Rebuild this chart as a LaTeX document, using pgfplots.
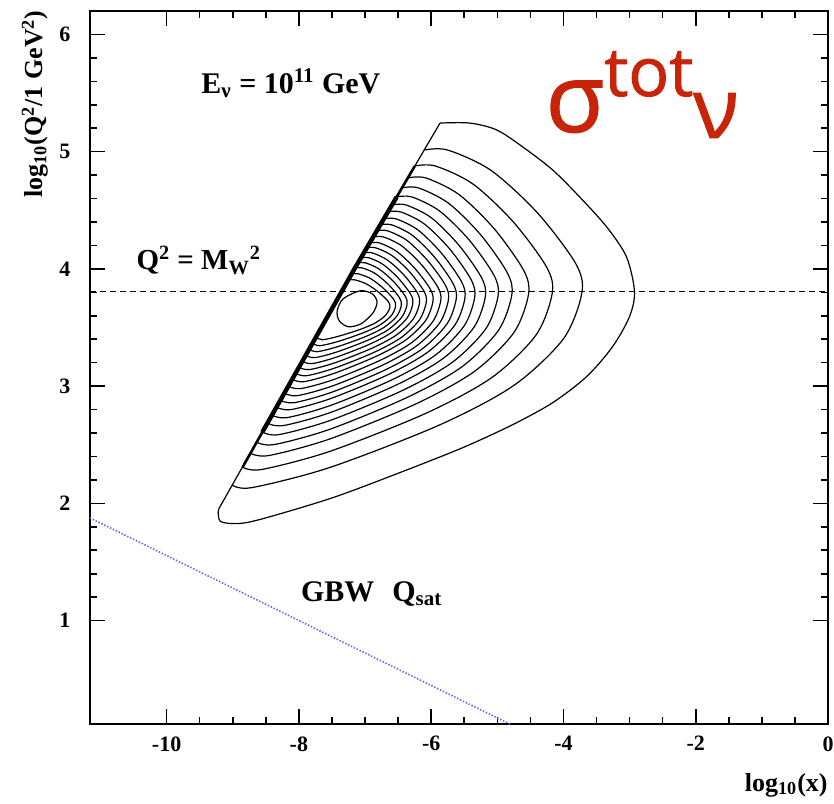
\documentclass[border=0pt]{standalone}
\usepackage{fontspec}
\setmainfont{Liberation Serif}
\newfontfamily\sigmafont{Open Sans}[FakeBold=1.2]
\usepackage{pgfplots}
\pgfplotsset{compat=1.18}
\definecolor{sigred}{RGB}{200,36,10}
\definecolor{gbwblue}{RGB}{95,95,255}

\begin{document}
\begin{tikzpicture}
% page frame
\path (-45pt,-39.5pt) rectangle (372.5pt,362.5pt);
\begin{axis}[
  at={(0,0)}, anchor=south west,
  scale only axis, width=369.5pt, height=357pt,
  xmin=-11.16, xmax=0, ymin=0.117, ymax=6.2,
  clip mode=individual,
  tick align=inside,
  xtick={-10,-8,-6,-4,-2,0}, xticklabels={-10,-8,-6,-4,-2,0},
  ytick={1,2,3,4,5,6}, yticklabels={1,2,3,4,5,6},
  minor x tick num=3, minor y tick num=4,
  major tick length=7.5pt, minor tick length=3.7pt,
  every tick/.style={black, line width=0.8pt},
  every axis/.append style={line width=0.9pt},
  ticklabel style={font=\fontsize{11}{11}\selectfont\bfseries},
  xticklabel style={inner sep=0pt, yshift=-5.7pt},
  yticklabel style={xshift=-6pt},
  ring/.style={black, line width=0.6pt, smooth},
]

% kinematic limit (y = 1) shared by all contours
\addplot[black, line width=0.6pt] coordinates {(-9.216,1.948) (-7.16,4.0) (-5.866,5.244)};
\addplot[black, line width=1.3pt] coordinates {(-8.851,2.309) (-7.16,4.0) (-6.247,4.878)};
\addplot[black, line width=2.2pt] coordinates {(-8.553,2.607) (-7.16,4.0) (-6.521,4.614)};

% contours of the integrand
\addplot[ring] coordinates {(-5.866,5.244) (-5.415,5.244) (-5.008,5.185) (-4.615,5.040) (-4.163,4.844) (-3.756,4.614) (-3.348,4.359) (-3.047,4.103) (-2.926,3.805) (-3.002,3.592) (-3.258,3.336) (-3.650,3.081) (-4.163,2.859) (-4.766,2.672) (-5.520,2.476) (-6.471,2.263) (-7.481,2.050) (-8.477,1.880) (-8.884,1.829) (-9.186,1.846) (-9.216,1.948)};
\addplot[ring] coordinates {(-6.105,5.014) (-5.751,5.014) (-5.097,4.841) (-4.398,4.481) (-3.819,4.050) (-3.721,3.798) (-4.000,3.404) (-4.758,3.003) (-5.889,2.665) (-7.534,2.306) (-8.705,2.135) (-9.005,2.155)};
\addplot[ring] coordinates {(-6.247,4.878) (-5.938,4.878) (-5.368,4.724) (-4.760,4.402) (-4.255,4.016) (-4.170,3.791) (-4.416,3.435) (-5.084,3.073) (-6.081,2.768) (-7.530,2.444) (-8.562,2.289) (-8.851,2.309)};
\addplot[ring] coordinates {(-6.353,4.776) (-6.081,4.776) (-5.581,4.635) (-5.046,4.342) (-4.603,3.989) (-4.528,3.784) (-4.748,3.458) (-5.345,3.126) (-6.236,2.847) (-7.531,2.550) (-8.454,2.408) (-8.732,2.428)};
\addplot[ring] coordinates {(-6.441,4.691) (-6.194,4.691) (-5.739,4.561) (-5.252,4.291) (-4.849,3.967) (-4.781,3.778) (-4.982,3.476) (-5.528,3.168) (-6.343,2.909) (-7.527,2.633) (-8.371,2.502) (-8.638,2.522)};
\addplot[ring] coordinates {(-6.521,4.614) (-6.293,4.614) (-5.873,4.494) (-5.423,4.245) (-5.051,3.946) (-4.988,3.771) (-5.173,3.490) (-5.676,3.205) (-6.427,2.965) (-7.519,2.709) (-8.297,2.587) (-8.553,2.607)};
\addplot[ring] coordinates {(-6.592,4.546) (-6.382,4.546) (-5.995,4.435) (-5.582,4.203) (-5.239,3.926) (-5.181,3.764) (-5.352,3.503) (-5.815,3.238) (-6.508,3.015) (-7.514,2.777) (-8.231,2.664) (-8.476,2.684)};
\addplot[ring] coordinates {(-6.655,4.486) (-6.459,4.486) (-6.100,4.382) (-5.715,4.167) (-5.396,3.908) (-5.342,3.757) (-5.501,3.514) (-5.931,3.267) (-6.574,3.059) (-7.508,2.838) (-8.174,2.732) (-8.408,2.752)};
\addplot[ring] coordinates {(-6.716,4.427) (-6.533,4.427) (-6.197,4.331) (-5.838,4.130) (-5.540,3.890) (-5.490,3.750) (-5.637,3.525) (-6.037,3.296) (-6.633,3.103) (-7.500,2.898) (-8.118,2.800) (-8.340,2.820)};
\addplot[ring] coordinates {(-6.769,4.376) (-6.598,4.376) (-6.283,4.286) (-5.947,4.099) (-5.668,3.874) (-5.621,3.743) (-5.758,3.533) (-6.130,3.320) (-6.686,3.141) (-7.494,2.950) (-8.070,2.859) (-8.281,2.879)};
\addplot[ring] coordinates {(-6.822,4.325) (-6.661,4.325) (-6.364,4.242) (-6.047,4.067) (-5.783,3.859) (-5.739,3.737) (-5.867,3.543) (-6.214,3.346) (-6.732,3.180) (-7.485,3.003) (-8.021,2.919) (-8.221,2.939)};
\addplot[ring] coordinates {(-6.876,4.273) (-6.724,4.273) (-6.444,4.196) (-6.145,4.035) (-5.897,3.842) (-5.855,3.730) (-5.974,3.552) (-6.295,3.371) (-6.776,3.219) (-7.475,3.056) (-7.972,2.979) (-8.161,2.999)};
\addplot[ring] coordinates {(-6.929,4.222) (-6.787,4.222) (-6.525,4.151) (-6.245,4.003) (-6.012,3.826) (-5.973,3.723) (-6.082,3.561) (-6.379,3.396) (-6.822,3.257) (-7.466,3.109) (-7.924,3.038) (-8.102,3.058)};
\addplot[ring] coordinates {(-6.973,4.180) (-6.839,4.180) (-6.593,4.114) (-6.329,3.977) (-6.111,3.812) (-6.074,3.716) (-6.175,3.567) (-6.450,3.416) (-6.861,3.289) (-7.459,3.154) (-7.884,3.089) (-8.051,3.109)};
\addplot[ring] coordinates {(-7.018,4.137) (-6.893,4.137) (-6.662,4.076) (-6.415,3.950) (-6.211,3.798) (-6.176,3.709) (-6.269,3.574) (-6.523,3.437) (-6.901,3.322) (-7.451,3.200) (-7.843,3.141) (-7.999,3.161)};
\addplot[ring] coordinates {(-7.061,4.095) (-6.944,4.095) (-6.730,4.039) (-6.500,3.923) (-6.310,3.784) (-6.278,3.703) (-6.363,3.582) (-6.595,3.459) (-6.941,3.355) (-7.445,3.245) (-7.803,3.192) (-7.948,3.212)};
\addplot[ring] coordinates {(-7.106,4.052) (-6.996,4.052) (-6.793,4.001) (-6.575,3.896) (-6.395,3.770) (-6.365,3.696) (-6.443,3.589) (-6.656,3.479) (-6.973,3.388) (-7.434,3.290) (-7.763,3.243) (-7.897,3.263)};
\addplot[ring] coordinates {(-7.151,4.009) (-7.047,4.009) (-6.855,3.964) (-6.650,3.869) (-6.480,3.755) (-6.451,3.689) (-6.522,3.595) (-6.716,3.500) (-7.004,3.420) (-7.424,3.335) (-7.723,3.294) (-7.846,3.314)};
\addplot[ring] coordinates {(-7.202,3.958) (-7.103,3.958) (-6.921,3.919) (-6.727,3.837) (-6.565,3.739) (-6.538,3.682) (-6.602,3.602) (-6.776,3.521) (-7.036,3.453) (-7.414,3.380) (-7.683,3.345) (-7.795,3.365)};
\addplot[ring] coordinates {(-7.253,3.907) (-7.159,3.907) (-6.987,3.874) (-6.803,3.805) (-6.650,3.723) (-6.624,3.675) (-6.681,3.609) (-6.836,3.542) (-7.068,3.485) (-7.404,3.425) (-7.644,3.396) (-7.744,3.416)};
% innermost closed contour
\addplot[black, line width=0.6pt, smooth cycle] coordinates {(-7.074,3.813) (-6.893,3.788) (-6.818,3.720) (-6.878,3.626) (-7.059,3.532) (-7.255,3.507) (-7.391,3.558) (-7.421,3.643) (-7.330,3.745)};

% Q^2 = M_W^2
\addplot[black, line width=0.6pt, dash pattern=on 3pt off 2pt] coordinates {(-11.16,3.805) (0,3.805)};
% GBW saturation scale
\addplot[gbwblue, line width=0.8pt, dash pattern=on 0.7pt off 0.9pt] coordinates {(-11.16,1.876) (-4.809,0.117)};

\node[anchor=base west, inner sep=0pt, font=\fontsize{15}{15}\selectfont\bfseries] at (axis cs:-9.487,5.500) {E\textsubscript{ν} = 10\textsuperscript{11} GeV};
\node[anchor=base west, inner sep=0pt, font=\fontsize{14.5}{14.5}\selectfont\bfseries] at (axis cs:-10.468,3.992) {Q\textsuperscript{2} = M\textsubscript{W}\textsuperscript{2}};
\node[anchor=base west, inner sep=0pt, font=\fontsize{15}{15}\selectfont\bfseries] at (axis cs:-7.979,1.164) {GBW\hspace{0.6em}Q\textsubscript{sat}};
\node[anchor=base west, inner sep=0pt, text=sigred] at (axis cs:-4.284,5.168)
  {\sigmafont\fontsize{48}{48}\selectfont σ\raisebox{18pt}{\fontsize{34}{34}\selectfont tot}\raisebox{-3pt}{\fontsize{42}{42}\selectfont ν}};
\end{axis}
% axis titles
\node[rotate=90, anchor=east, inner sep=0pt, font=\fontsize{13}{13}\selectfont\bfseries] at (-27.5pt,357.5pt) {log\textsubscript{10}(Q\textsuperscript{2}/1 GeV\textsuperscript{2})};
\node[anchor=base east, inner sep=0pt, font=\fontsize{13}{13}\selectfont\bfseries] at (369.5pt,-33.5pt) {log\textsubscript{10}(x)};
\end{tikzpicture}
\end{document}
